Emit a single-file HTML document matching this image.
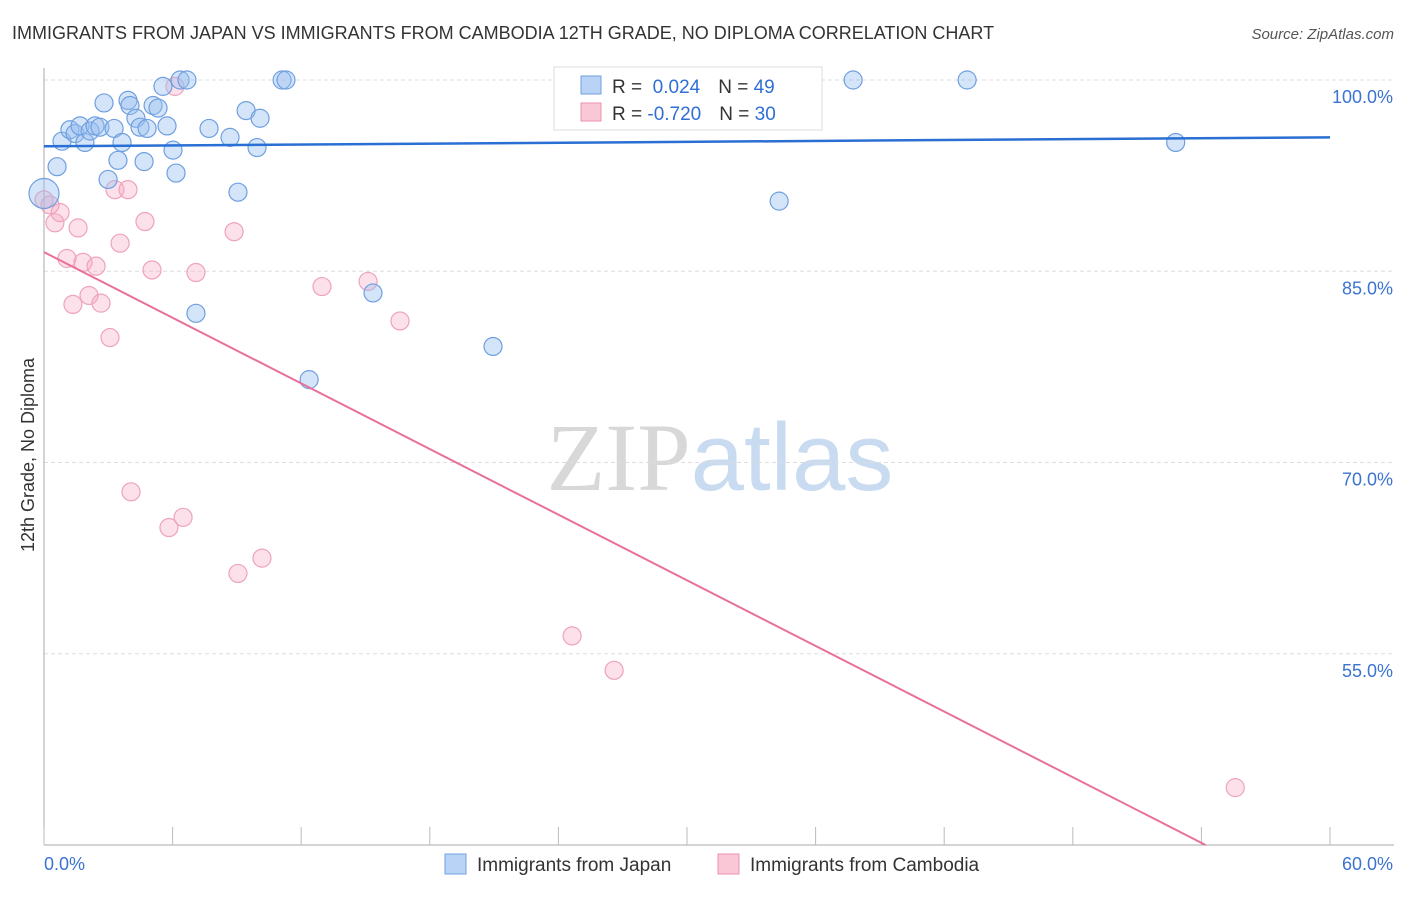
<!DOCTYPE html>
<html><head><meta charset="utf-8"><style>
body{margin:0;background:#fff;font-family:"Liberation Sans",sans-serif}
svg text{font-family:"Liberation Sans",sans-serif}
</style></head><body>
<svg id="chart" width="1406" height="892" xmlns="http://www.w3.org/2000/svg">
<text x="12" y="39" font-size="18" fill="#333">IMMIGRANTS FROM JAPAN VS IMMIGRANTS FROM CAMBODIA 12TH GRADE, NO DIPLOMA CORRELATION CHART</text>
<text x="1394" y="39" font-size="15" fill="#555" text-anchor="end" font-style="italic">Source: ZipAtlas.com</text>
<text x="720" y="490" font-size="96" text-anchor="middle"><tspan fill="#d8d8d8" font-family="Liberation Serif">ZIP</tspan><tspan fill="#c9dbf0">atlas</tspan></text>
<text transform="translate(34,455) rotate(-90)" font-size="18" fill="#333" text-anchor="middle">12th Grade, No Diploma</text>
<g id="grid"></g><g id="axes"></g><g id="pts"></g><g id="lines"></g>
<g>
<rect x="554" y="67" width="268" height="63" fill="#fff" stroke="#ddd"/>
<rect x="581" y="76" width="20" height="18" fill="#b8d3f5" stroke="#6f9fe0"/>
<rect x="581" y="103" width="20" height="18" fill="#f9c7d6" stroke="#eb93ad"/>
<text x="612" y="93" font-size="19" fill="#333">R = <tspan fill="#2f6fd6">&#160;0.024</tspan><tspan dx="18" fill="#333">N = </tspan><tspan fill="#2f6fd6">49</tspan></text>
<text x="612" y="120" font-size="19" fill="#333">R = <tspan fill="#2f6fd6">-0.720</tspan><tspan dx="18" fill="#333">N = </tspan><tspan fill="#2f6fd6">30</tspan></text>
</g>
<g>
<rect x="445" y="854" width="21" height="20" fill="#b8d3f5" stroke="#6f9fe0"/>
<text x="477" y="871" font-size="19" fill="#333">Immigrants from Japan</text>
<rect x="718" y="854" width="21" height="20" fill="#f9c7d6" stroke="#eb93ad"/>
<text x="750" y="871" font-size="19" fill="#333">Immigrants from Cambodia</text>
</g>
</svg>
<script>
const yTicks=[100,85,70,55];
const xTickLabels=["0.0%","60.0%"];
const japanX=[0,0.61,0.84,1.21,1.45,1.68,1.91,2.15,2.38,2.61,2.8,2.99,3.27,3.45,3.64,3.92,4.01,4.29,4.48,4.67,4.81,5.09,5.32,5.55,5.74,6.02,6.16,6.35,6.67,7.09,7.7,8.68,9.05,9.43,9.94,10.08,11.11,11.29,12.37,15.35,20.95,28.6,31.6,34.3,37.75,43.07,52.8];
const japanY=[91.1,93.2,95.2,96.1,95.8,96.4,95.1,96.0,96.4,96.3,98.2,92.2,96.2,93.7,95.1,98.4,98.0,97.0,96.3,93.6,96.2,98.0,97.8,99.5,96.4,94.5,92.7,100,100,81.7,96.2,95.5,91.2,97.6,94.7,97.0,100,100,76.5,83.3,79.1,100,100,90.5,100,100,95.1];
const cambX=[0,0.28,0.51,0.75,1.07,1.35,1.59,1.82,2.1,2.43,2.66,3.08,3.31,3.55,3.92,4.06,4.71,5.04,5.83,6.11,6.49,7.09,8.87,9.05,10.17,12.97,15.12,16.61,24.64,26.6,55.58];
const cambY=[90.6,90.2,88.8,89.6,86.0,82.4,88.4,85.7,83.1,85.4,82.5,79.8,91.4,87.2,91.4,67.7,88.9,85.1,64.9,99.5,65.7,84.9,88.1,61.3,62.5,83.8,84.2,81.1,56.4,53.7,44.5];
const japanTrend=[94.8,95.5]; // value at x=0 and x=60
const cambTrend=[86.5,-0.858]; // intercept, slope
const NS="http://www.w3.org/2000/svg";
const X=v=>44+v*(1286/60), Y=v=>80+(100-v)*12.75;
function mk(p,t,a){const e=document.createElementNS(NS,t);for(const k in a)e.setAttribute(k,a[k]);document.getElementById(p).appendChild(e);return e;}
yTicks.forEach(v=>{
 const l=mk('grid','line',{x1:44,x2:1394,y1:Y(v),y2:Y(v),stroke:'#ddd','stroke-dasharray':'4,3'});
 
 
 const t=mk('grid','text',{x:1393,y:Y(v)+23,'font-size':18,fill:'#3b73d1','text-anchor':'end'});t.textContent=v.toFixed(1)+'%';
 
 
});
const ax=mk('axes','line',{x1:44,x2:44,y1:68,y2:845,stroke:'#aaa'});


const bx=mk('axes','line',{x1:44,x2:1394,y1:845,y2:845,stroke:'#aaa'});


for(let i=0;i<=10;i++){const t=mk('axes','line',{x1:X(i*6),x2:X(i*6),y1:827,y2:845,stroke:'#bbb'});
 
 }
[[0,'start',44],[1,'end',1393]].forEach(([i,a,x])=>{const t=mk('axes','text',{x:x,y:870,'font-size':18,fill:'#3b73d1','text-anchor':a});t.textContent=xTickLabels[i];
 
 });
cambX.forEach((v,i)=>{const c=mk('pts','circle',{cx:X(v),cy:Y(cambY[i]),r:9,fill:'rgba(245,170,195,0.35)',stroke:'#eea3bb','stroke-width':1.2});
 
 });
japanX.forEach((v,i)=>{const c=mk('pts','circle',{cx:X(v),cy:Y(japanY[i]),r:i==0?15:9,fill:'rgba(150,190,240,0.4)',stroke:'#6f9fe0','stroke-width':1.2});
 
 });
const jl=mk('lines','line',{x1:X(0),y1:Y(japanTrend[0]),x2:X(60),y2:Y(japanTrend[1]),stroke:'#2a6fd4','stroke-width':2.5});


const xe=(40-cambTrend[0])/cambTrend[1];
const cl=mk('lines','line',{x1:X(0),y1:Y(cambTrend[0]),x2:X(xe),y2:Y(40),stroke:'#e8709a','stroke-width':2});


</script>
</body></html>
